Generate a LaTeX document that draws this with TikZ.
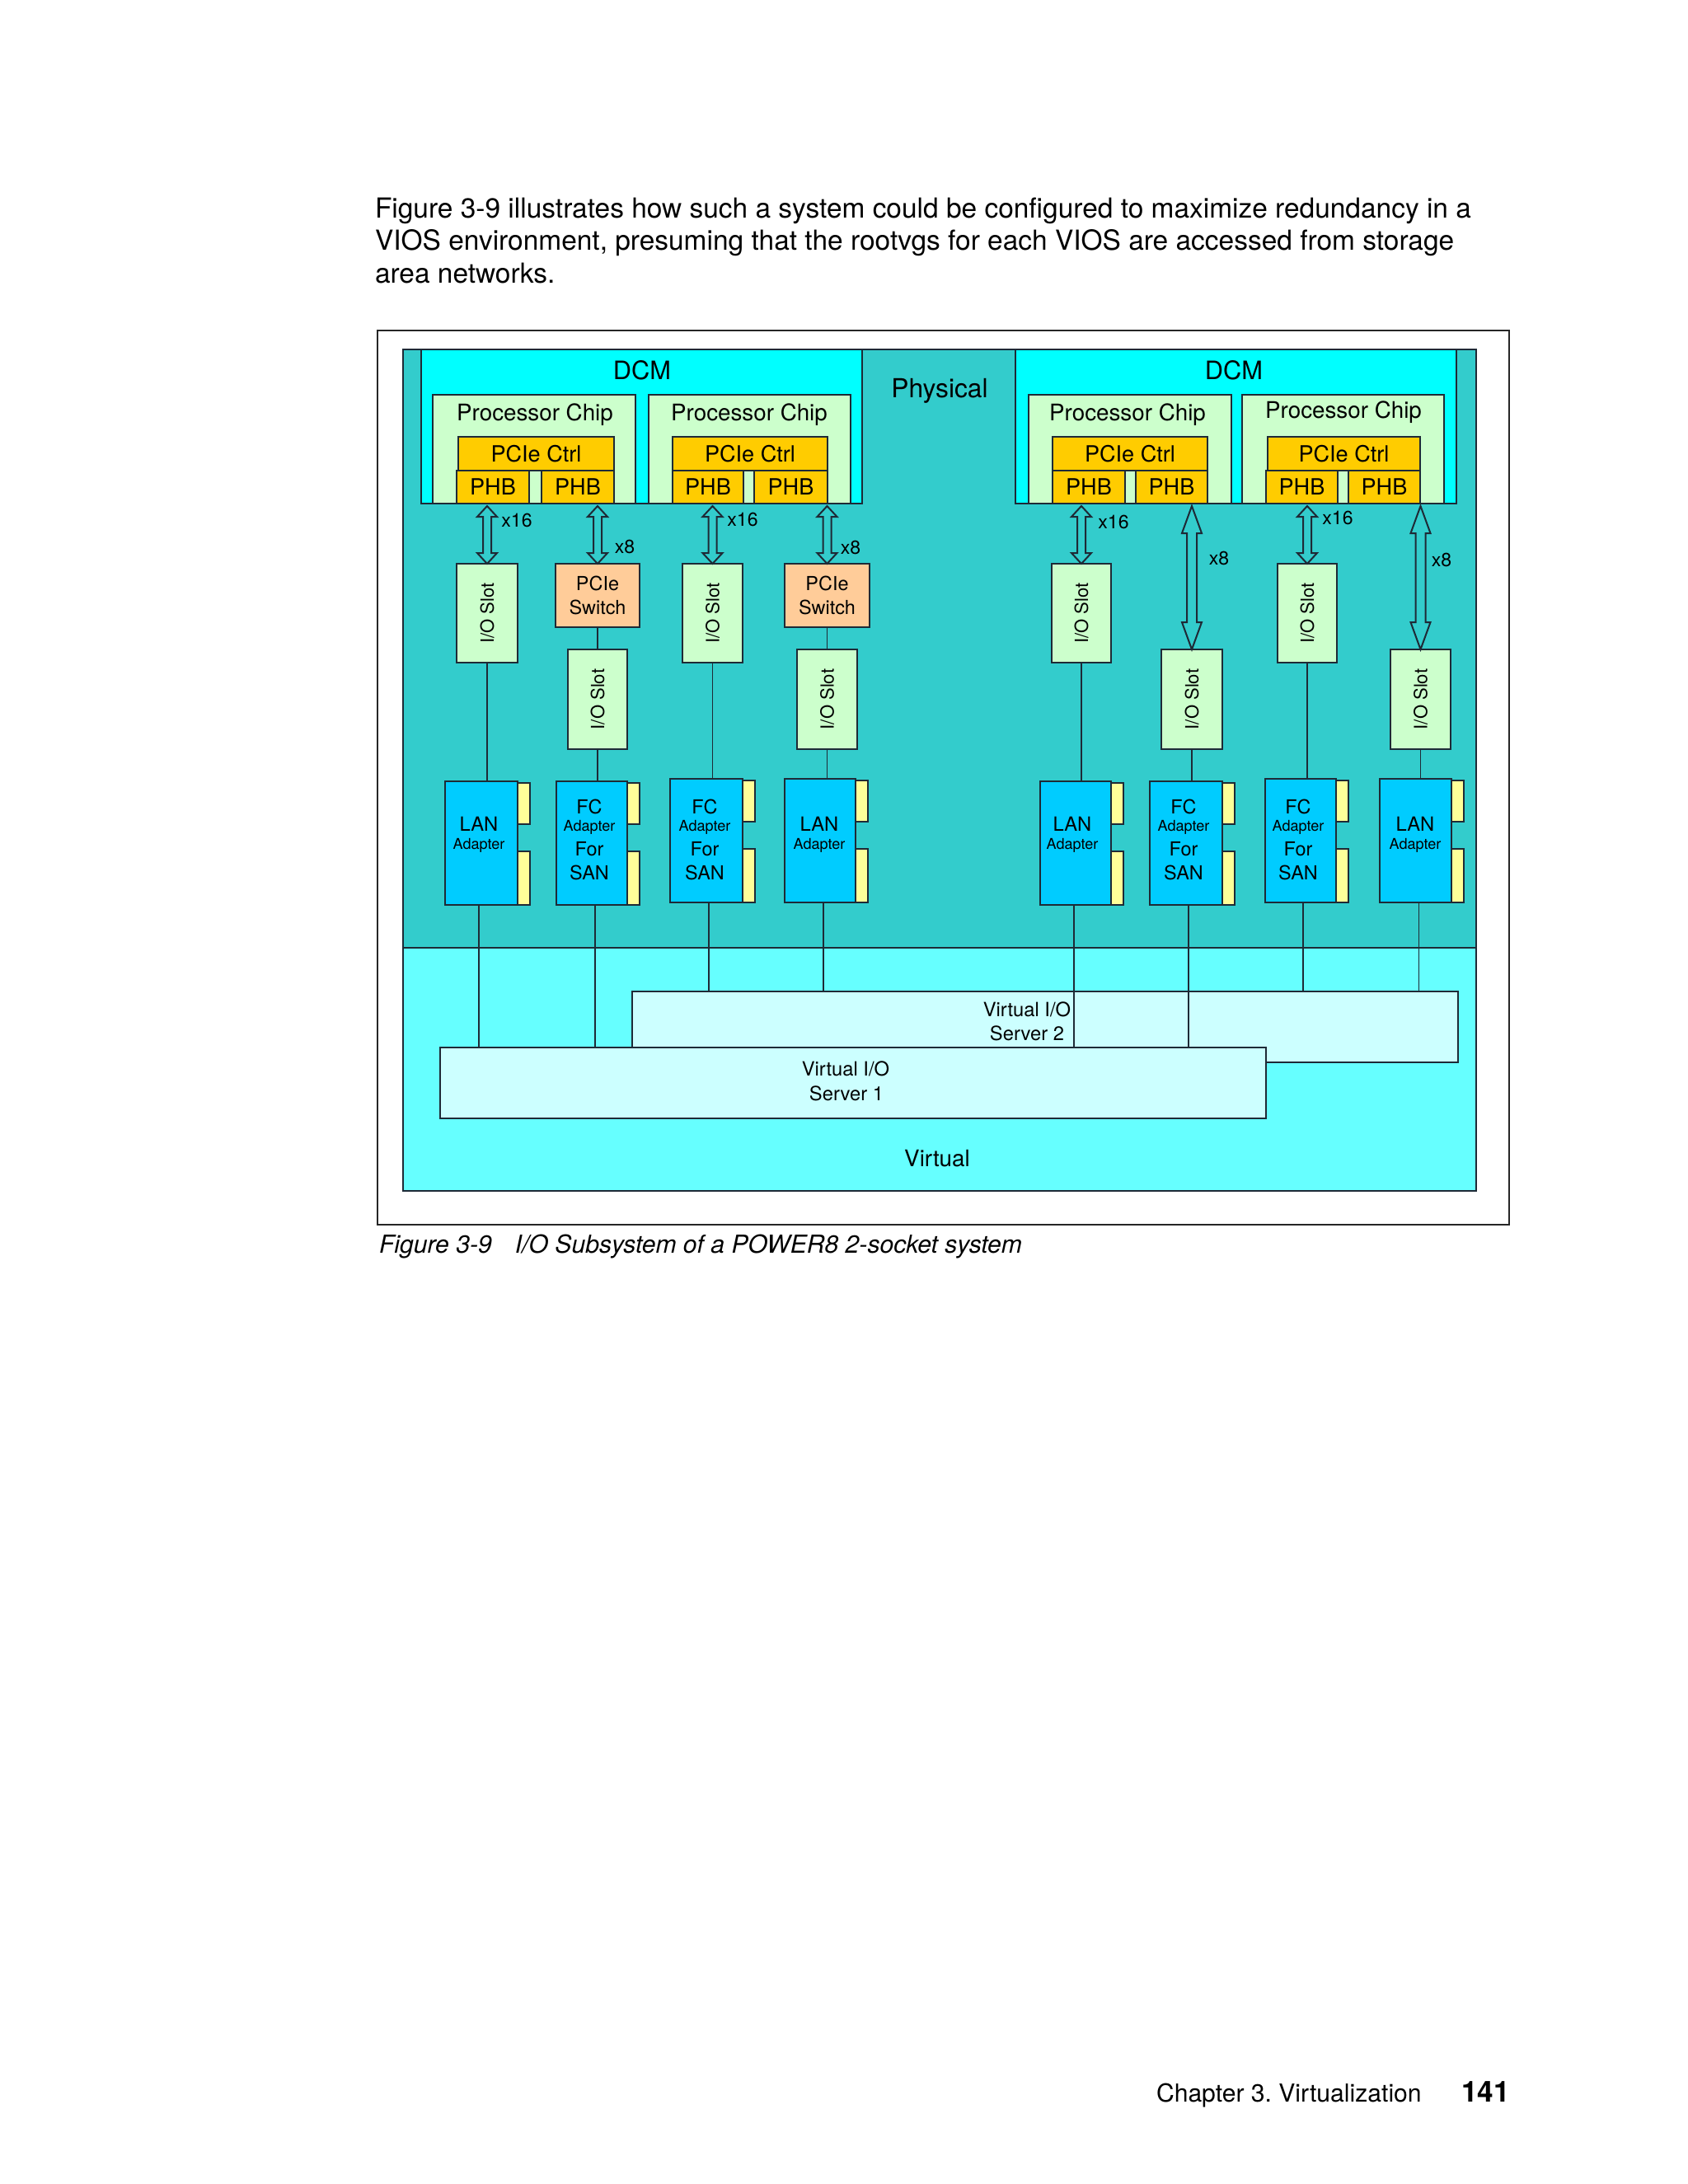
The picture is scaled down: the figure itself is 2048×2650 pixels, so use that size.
\documentclass[tikz,border=0pt]{standalone}
\usepackage{fontspec}
\setmainfont{TeX Gyre Heros}
\usetikzlibrary{calc,fit}

\definecolor{phys}{HTML}{33CCCC}
\definecolor{virt}{HTML}{66FFFF}
\definecolor{dcmc}{HTML}{00FFFF}
\definecolor{chipc}{HTML}{CCFFCC}
\definecolor{goldc}{HTML}{FFCC00}
\definecolor{peach}{HTML}{FFCC99}
\definecolor{adapt}{HTML}{00CCFF}
\definecolor{tabc}{HTML}{FFFF99}
\definecolor{vios}{HTML}{CCFFFF}
\definecolor{edge}{HTML}{1E2A36}

\newcommand\fsz[1]{\fontsize{#1pt}{#1pt}\selectfont}

\tikzset{
  region/.style={draw=edge, line width=0.6pt, inner sep=0pt, outer sep=0pt, fill=#1},
  txt/.style={inner sep=0pt, outer sep=0pt, text=black},
  wire/.style={draw=edge, line width=0.5pt},
  barrow/.style={draw=edge, line width=0.6pt, fill=phys, line join=miter},
}

% block double arrow: top coord, bottom coord, shaft half, head half, head length
\newcommand\blockarrow[5]{%
  \draw[barrow] ($(#1)+(-#3,#5)$) -- ($(#1)+(-#4,#5)$) -- (#1) -- ($(#1)+(#4,#5)$) -- ($(#1)+(#3,#5)$)
     -- ($(#2)+(#3,-#5)$) -- ($(#2)+(#4,-#5)$) -- (#2) -- ($(#2)+(-#4,-#5)$) -- ($(#2)+(-#3,-#5)$) -- cycle;}

% adapter body with two tabs: name, x1, y1, x2, y2
\newcommand\adapterbox[5]{%
  \node[region=adapt, fit={(#2,#3) (#4,#5)}] (#1) {};
  \node[region=tabc, fit={(#4,{#3+2}) ({#4+15},{#3+52})}] (#1ta) {};
  \node[region=tabc, fit={(#4,{#3+85}) ({#4+15},#5)}] (#1tb) {};}

\newcommand\lantext[2]{%
  \node[txt, font=\fsz{7.1}] (#1la) at (#2,1000) {LAN};
  \node[txt, font=\fsz{5.4}] (#1lb) at (#2,1026) {Adapter};}

\newcommand\fctext[2]{%
  \node[txt, font=\fsz{7}] (#1fa) at (#2,979) {FC};
  \node[txt, font=\fsz{5.4}] (#1fb) at (#2,1004) {Adapter};
  \node[txt, font=\fsz{7}] (#1fc) at (#2,1030) {For};
  \node[txt, font=\fsz{7}] (#1fd) at (#2,1059) {SAN};}

\frenchspacing
\begin{document}
\begin{tikzpicture}[x=0.29883pt, y=-0.29883pt]
\fill[white] (0,0) rectangle (2048,2650);
\useasboundingbox (0,0) rectangle (2048,2650);

% page text
\node[txt, anchor=base west, font=\fsz{10}] (p1) at (455,264) {Figure 3-9 illustrates how such a system could be configured to maximize redundancy in a};
\node[txt, anchor=base west, font=\fsz{10}] (p2) at (455,303) {VIOS environment, presuming that the rootvgs for each VIOS are accessed from storage};
\node[txt, anchor=base west, font=\fsz{10}] (p3) at (455,343) {area networks.};

% figure frame
\node[draw=black!85, line width=0.45pt, inner sep=0pt, fit={(458,401) (1831,1486)}] (frame) {};

% regions
\node[region=phys, fit={(489,424) (1791,1150)}] (physical) {};
\node[region=virt, fit={(489,1150) (1791,1445)}] (virtual) {};
\node[txt, font=\fsz{9.5}] (physlbl) at (1140,474) {Physical};
\node[txt, font=\fsz{8.3}] (virtlbl) at (1137,1406) {Virtual};

% DCMs
\node[region=dcmc, fit={(511,424) (1046,611)}] (dcm1) {};
\node[region=dcmc, fit={(1232,424) (1767,611)}] (dcm2) {};
\node[txt, font=\fsz{9.2}] (dcm1lbl) at (779,449) {DCM};
\node[txt, font=\fsz{9.2}] (dcm2lbl) at (1497,449) {DCM};

% processor chips
\node[region=chipc, fit={(525,479) (771,611)}] (chip1) {};
\node[region=chipc, fit={(787,479) (1032,611)}] (chip2) {};
\node[region=chipc, fit={(1248,479) (1494,611)}] (chip3) {};
\node[region=chipc, fit={(1507,479) (1752,611)}] (chip4) {};
\node[txt, font=\fsz{8.3}] (chip1lbl) at (649,503) {Processor Chip};
\node[txt, font=\fsz{8.3}] (chip2lbl) at (909,503) {Processor Chip};
\node[txt, font=\fsz{8.3}] (chip3lbl) at (1368,503) {Processor Chip};
\node[txt, font=\fsz{8.3}] (chip4lbl) at (1630,500) {Processor Chip};

% PCIe controllers and PHBs
\node[region=goldc, fit={(556,530) (745,571)}] (ctrl1) {};
\node[region=goldc, fit={(816,530) (1004,571)}] (ctrl2) {};
\node[region=goldc, fit={(1277,530) (1465,571)}] (ctrl3) {};
\node[region=goldc, fit={(1538,530) (1723,571)}] (ctrl4) {};
\foreach \c in {1,...,4}{
  \node[txt, font=\fsz{8.1}] (ctrl\c lbl) at (ctrl\c.center) {PCIe Ctrl};
}
\node[region=goldc, fit={(554,571) (642,611)}] (phb1) {};
\node[region=goldc, fit={(657,571) (745,611)}] (phb2) {};
\node[region=goldc, fit={(816,571) (902,611)}] (phb3) {};
\node[region=goldc, fit={(915,571) (1004,611)}] (phb4) {};
\node[region=goldc, fit={(1277,571) (1365,611)}] (phb5) {};
\node[region=goldc, fit={(1378,571) (1465,611)}] (phb6) {};
\node[region=goldc, fit={(1536,571) (1623,611)}] (phb7) {};
\node[region=goldc, fit={(1636,571) (1723,611)}] (phb8) {};
\foreach \c in {1,...,8}{
  \node[txt, font=\fsz{8.1}] (phb\c lbl) at (phb\c.center) {PHB};
}

% I/O slots and PCIe switches
\node[region=chipc, fit={(554,684) (628,804)}] (slot1) {};
\node[region=peach, fit={(674,684) (776,761)}] (sw1) {};
\node[region=chipc, fit={(689,788) (761,909)}] (slot2) {};
\node[region=chipc, fit={(828,684) (901,804)}] (slot3) {};
\node[region=peach, fit={(952,684) (1055,761)}] (sw2) {};
\node[region=chipc, fit={(967,788) (1040,909)}] (slot4) {};
\node[region=chipc, fit={(1276,684) (1348,804)}] (slot5) {};
\node[region=chipc, fit={(1409,788) (1483,909)}] (slot6) {};
\node[region=chipc, fit={(1550,684) (1622,804)}] (slot7) {};
\node[region=chipc, fit={(1687,788) (1760,909)}] (slot8) {};
\foreach \s in {1,...,8}{
  \node[txt, rotate=90, font=\fsz{6.6}] (slot\s lbl) at (slot\s.center) {I/O Slot};
}
\foreach \s in {1,2}{
  \node[txt, align=center, font=\fontsize{7pt}{8.7pt}\selectfont] (sw\s lbl) at (sw\s.center) {PCIe\\Switch};
}

% block arrows
\coordinate (a1t) at ($(slot1.north |- dcm1.south)+(0,3)$); \coordinate (a1b) at (slot1.north);
\coordinate (a2t) at ($(sw1.north |- dcm1.south)+(0,3)$);   \coordinate (a2b) at (sw1.north);
\coordinate (a3t) at ($(slot3.north |- dcm1.south)+(0,3)$); \coordinate (a3b) at (slot3.north);
\coordinate (a4t) at ($(sw2.north |- dcm1.south)+(0,3)$);   \coordinate (a4b) at (sw2.north);
\coordinate (a5t) at ($(slot5.north |- dcm2.south)+(0,3)$); \coordinate (a5b) at (slot5.north);
\coordinate (a6t) at ($(slot6.north |- dcm2.south)+(0,3)$); \coordinate (a6b) at (slot6.north);
\coordinate (a7t) at ($(slot7.north |- dcm2.south)+(0,3)$); \coordinate (a7b) at (slot7.north);
\coordinate (a8t) at ($(slot8.north |- dcm2.south)+(0,3)$); \coordinate (a8b) at (slot8.north);
\blockarrow{a1t}{a1b}{5}{12}{13}
\blockarrow{a2t}{a2b}{5}{12}{13}
\blockarrow{a3t}{a3b}{5}{12}{13}
\blockarrow{a4t}{a4b}{5}{12}{13}
\blockarrow{a5t}{a5b}{5}{12}{13}
\blockarrow{a6t}{a6b}{6}{12}{33}
\blockarrow{a7t}{a7b}{5}{12}{13}
\blockarrow{a8t}{a8b}{6}{12}{33}

\node[txt, font=\fsz{6.9}] (l1) at (627,631) {x16};
\node[txt, font=\fsz{6.9}] (l2) at (758,663) {x8};
\node[txt, font=\fsz{6.9}] (l3) at (901,630) {x16};
\node[txt, font=\fsz{6.9}] (l4) at (1032,664) {x8};
\node[txt, font=\fsz{6.9}] (l5) at (1351,633) {x16};
\node[txt, font=\fsz{6.9}] (l6) at (1479,677) {x8};
\node[txt, font=\fsz{6.9}] (l7) at (1623,628) {x16};
\node[txt, font=\fsz{6.9}] (l8) at (1749,679) {x8};

% adapters
\adapterbox{ad1}{540}{948}{628}{1098}
\adapterbox{ad2}{675}{948}{761}{1098}
\adapterbox{ad3}{813}{945}{901}{1095}
\adapterbox{ad4}{952}{945}{1038}{1095}
\adapterbox{ad5}{1262}{948}{1348}{1098}
\adapterbox{ad6}{1395}{948}{1483}{1098}
\adapterbox{ad7}{1535}{945}{1621}{1095}
\adapterbox{ad8}{1674}{945}{1761}{1095}
\lantext{ad1}{581}
\fctext{ad2}{715}
\fctext{ad3}{855}
\lantext{ad4}{994}
\lantext{ad5}{1301}
\fctext{ad6}{1436}
\fctext{ad7}{1575}
\lantext{ad8}{1717}

% wires physical
\draw[wire] (sw1.south) -- (slot2.north);
\draw[wire] (sw2.south) -- (slot4.north);
\draw[wire] (slot1.south) -- (slot1.south |- ad1.north);
\draw[wire] (slot2.south) -- (slot2.south |- ad2.north);
\draw[wire] (slot3.south) -- (slot3.south |- ad3.north);
\draw[wire] (slot4.south) -- (slot4.south |- ad4.north);
\draw[wire] (slot5.south) -- (slot5.south |- ad5.north);
\draw[wire] (slot6.south) -- (slot6.south |- ad6.north);
\draw[wire] (slot7.south) -- (slot7.south |- ad7.north);
\draw[wire] (slot8.south) -- (slot8.south |- ad8.north);

% virtual I/O servers
\node[region=vios, fit={(767,1203) (1769,1289)}] (vios2) {};
\node[txt, font=\fsz{7.1}] (v2a) at (1246,1225) {Virtual I/O};
\node[txt, font=\fsz{7.1}] (v2b) at (1246,1254) {Server 2};
\coordinate (v1top) at (0,1271);
\coordinate (w1) at ($(ad1.south)+(-3,0)$);
\coordinate (w2) at ($(ad2.south)+(4,0)$);
\coordinate (w3) at ($(ad3.south)+(3,0)$);
\coordinate (w4) at ($(ad4.south)+(4,0)$);
\coordinate (w5) at ($(ad5.south)+(-2,0)$);
\coordinate (w6) at ($(ad6.south)+(3,0)$);
\coordinate (w7) at ($(ad7.south)+(3,0)$);
\coordinate (w8) at ($(ad8.south)+(4,0)$);
\draw[wire] (w1) -- (w1 |- v1top);
\draw[wire] (w2) -- (w2 |- v1top);
\draw[wire] (w5) -- (w5 |- v1top);
\draw[wire] (w6) -- (w6 |- v1top);
\draw[wire] (w3) -- (w3 |- vios2.north);
\draw[wire] (w4) -- (w4 |- vios2.north);
\draw[wire] (w7) -- (w7 |- vios2.north);
\draw[wire] (w8) -- (w8 |- vios2.north);
\node[region=vios, fit={(534,1271) (1536,1357)}] (vios1) {};
\node[txt, font=\fsz{7.1}] (v1a) at (1026,1297) {Virtual I/O};
\node[txt, font=\fsz{7.1}] (v1b) at (1027,1327) {Server 1};

% caption and footer
\node[txt, anchor=base west, font=\fsz{9}\itshape] (cap) at (460,1520) {Figure 3-9\hspace{8.4pt}I/O Subsystem of a POWER8 2-socket system};
\node[txt, anchor=base west, font=\fsz{9}] (chap) at (1403,2550) {Chapter 3. Virtualization};
\node[txt, anchor=base east, font=\fsz{10.5}\bfseries] (pg) at (1832,2550) {141};
\end{tikzpicture}
\end{document}
